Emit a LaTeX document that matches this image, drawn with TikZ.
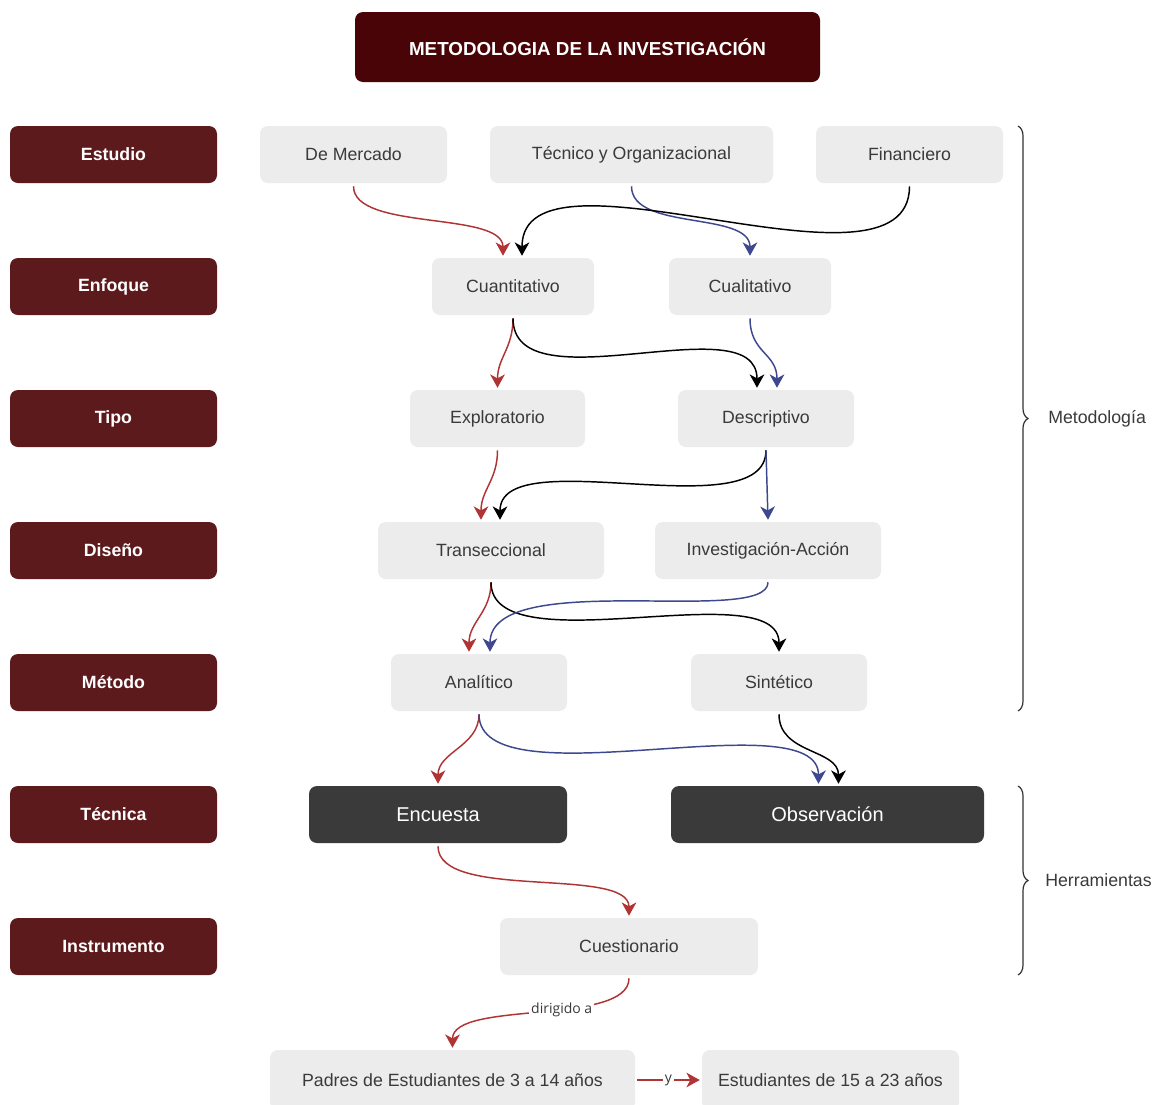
\documentclass[tikz,border=0pt]{standalone}
\usepackage{fontspec}
\setmainfont{Liberation Sans}
\newfontfamily\lblfont{Open Sans}
\usetikzlibrary{calc,arrows.meta,decorations.pathreplacing}
\definecolor{titlered}{RGB}{72,4,6}
\definecolor{rowred}{RGB}{92,26,28}
\definecolor{boxgray}{RGB}{236,236,236}
\definecolor{boxtext}{RGB}{58,58,58}
\definecolor{darkbox}{RGB}{58,58,58}
\definecolor{arrred}{RGB}{176,52,52}
\definecolor{arrblue}{RGB}{62,72,142}
\definecolor{bracecol}{RGB}{50,50,50}
\tikzset{
  x=0.75pt, y=-0.75pt,
  titlebox/.style={fill=titlered, rounded corners=6pt, text=white, font=\fontsize{14.1}{16}\selectfont\bfseries, minimum width=348.75pt, minimum height=52.5pt, inner sep=0pt},
  rowbox/.style={fill=rowred, rounded corners=6pt, text=white, font=\fontsize{13.3}{16}\selectfont\bfseries, minimum width=155.25pt, minimum height=42.75pt, inner sep=0pt},
  graybox/.style={fill=boxgray, rounded corners=6pt, text=boxtext, font=\fontsize{13.3}{16}\selectfont, minimum height=42.75pt, inner sep=0pt},
  darkbox/.style={fill=darkbox, rounded corners=6pt, text=white, font=\fontsize{15}{18}\selectfont, minimum height=42.75pt, inner sep=0pt},
  conn/.style={line width=1.1pt, -{Stealth[length=10pt,width=11pt,inset=3pt]}},
  rconn/.style={conn, draw=arrred},
  bconn/.style={conn, draw=arrblue},
  kconn/.style={conn, draw=black},
  bracestyle/.style={draw=bracecol, line width=0.9pt, decorate, decoration={brace, amplitude=7.5pt}},
  sidetext/.style={text=boxtext, font=\fontsize{13.3}{16}\selectfont, anchor=west, inner sep=0pt},
  edgelbl/.style={fill=white, text=boxtext, font=\lblfont\fontsize{10.5}{12}\selectfont, inner sep=1.5pt}
}
\begin{document}
\begin{tikzpicture}
\useasboundingbox (0,0) rectangle (1157,1104);
\fill[white] (0,0) rectangle (1157,1104);

% title
\node[titlebox] (title) at (587.5,47) {METODOLOGIA DE LA INVESTIGACIÓN};

% row labels
\node[rowbox] (rEst) at (113.5,154.5) {Estudio};
\node[rowbox] (rEnf) at (113.5,286.5) {Enfoque};
\node[rowbox] (rTip) at (113.5,418.5) {Tipo};
\node[rowbox] (rDis) at (113.5,550.5) {Diseño};
\node[rowbox] (rMet) at (113.5,682.5) {Método};
\node[rowbox] (rTec) at (113.5,814.5) {Técnica};
\node[rowbox] (rIns) at (113.5,946.5) {Instrumento};

% content boxes
\node[graybox, minimum width=140.25pt] (merc) at (353.5,154.5) {De Mercado};
\node[graybox, minimum width=212.25pt] (tec) at (631.5,154.5) {Técnico y Organizacional};
\node[graybox, minimum width=140.25pt] (fin) at (909.5,154.5) {Financiero};
\node[graybox, minimum width=121.5pt] (cuant) at (513,286.5) {Cuantitativo};
\node[graybox, minimum width=121.5pt] (cual) at (750,286.5) {Cualitativo};
\node[graybox, minimum width=131.25pt] (expl) at (497.5,418.5) {Exploratorio};
\node[graybox, minimum width=132pt] (desc) at (766,418.5) {Descriptivo};
\node[graybox, minimum width=169.5pt] (trans) at (491,550.5) {Transeccional};
\node[graybox, minimum width=169.5pt] (inv) at (768,550.5) {Investigación-Acción};
\node[graybox, minimum width=132pt] (anal) at (479,682.5) {Analítico};
\node[graybox, minimum width=132pt] (sint) at (779,682.5) {Sintético};
\node[darkbox, minimum width=193.5pt] (enc) at (438,814.5) {Encuesta};
\node[darkbox, minimum width=234.75pt] (obs) at (827.5,814.5) {Observación};
\node[graybox, minimum width=193.5pt] (cuest) at (629,946.5) {Cuestionario};
\node[graybox, minimum width=273.75pt, minimum height=45pt] (padres) at (452.5,1080) {Padres de Estudiantes de 3 a 14 años};
\node[graybox, minimum width=192.75pt, minimum height=45pt] (estud) at (830.5,1080) {Estudiantes de 15 a 23 años};

% connectors: Estudio -> Enfoque
\draw[rconn] ($(merc.south)+(0,3)$) .. controls +(0,45) and +(0,-45) .. ($(cuant.north)+(-10,-2)$);
\draw[bconn] ($(tec.south)+(0,3)$) .. controls +(0,45) and +(0,-45) .. ($(cual.north)+(0,-2)$);
\draw[kconn] ($(fin.south)+(0,3)$) .. controls +(0,125) and +(0,-125) .. ($(cuant.north)+(9,-2)$);

% Enfoque -> Tipo
\draw[rconn] ($(cuant.south)+(0,3)$) .. controls +(0,30) and +(0,-30) .. ($(expl.north)+(0,-2)$);
\draw[kconn] ($(cuant.south)+(0,3)$) .. controls +(0,90) and +(0,-85) .. ($(desc.north)+(-9,-2)$);
\draw[bconn] ($(cual.south)+(0,3)$) .. controls +(0,35) and +(0,-35) .. ($(desc.north)+(11,-2)$);

% Tipo -> Diseño
\draw[rconn] ($(expl.south)+(0,3)$) .. controls +(0,30) and +(0,-30) .. ($(trans.north)+(-10,-2)$);
\draw[kconn] ($(desc.south)+(0,3)$) .. controls +(0,80) and +(0,-80) .. ($(trans.north)+(9,-2)$);
\draw[bconn] ($(desc.south)+(0,3)$) -- ($(inv.north)+(0,-2)$);

% Diseño -> Método
\draw[rconn] ($(trans.south)+(0,3)$) .. controls +(0,30) and +(0,-30) .. ($(anal.north)+(-10,-2)$);
\draw[kconn] ($(trans.south)+(0,3)$) .. controls +(0,85) and +(0,-80) .. ($(sint.north)+(0,-2)$);
\draw[bconn] ($(inv.south)+(0,3)$) .. controls +(0,45) and +(0,-85) .. ($(anal.north)+(11,-2)$);

% Método -> Técnica
\draw[rconn] ($(anal.south)+(0,3)$) .. controls +(0,32) and +(0,-32) .. ($(enc.north)+(0,-2)$);
\draw[bconn] ($(anal.south)+(0,3)$) .. controls +(0,90) and +(0,-85) .. ($(obs.north)+(-9,-2)$);
\draw[kconn] ($(sint.south)+(0,3)$) .. controls +(0,40) and +(0,-35) .. ($(obs.north)+(11,-2)$);

% Técnica -> Instrumento
\draw[rconn] ($(enc.south)+(0,3)$) .. controls +(0,55) and +(0,-50) .. ($(cuest.north)+(0,-2)$);

% Instrumento -> targets
\draw[rconn] ($(cuest.south)+(0,3)$) .. controls +(0,48) and +(0,-48) .. node[edgelbl, pos=0.42] {dirigido a} ($(padres.north)+(0,-2)$);
\draw[rconn] ($(padres.east)+(2,0)$) -- node[edgelbl] {y} ($(estud.west)+(-2,0)$);

% braces
\coordinate (b1t) at (1018,126);
\coordinate (b1b) at (1018,711);
\coordinate (b2t) at (1018,786);
\coordinate (b2b) at (1018,975);
\draw[bracestyle] (b1t) -- (b1b);
\draw[bracestyle] (b2t) -- (b2b);
\node[sidetext] (metodo) at (1048,418.5) {Metodología};
\node[sidetext] (herr) at (1045,880.5) {Herramientas};
\end{tikzpicture}
\end{document}
